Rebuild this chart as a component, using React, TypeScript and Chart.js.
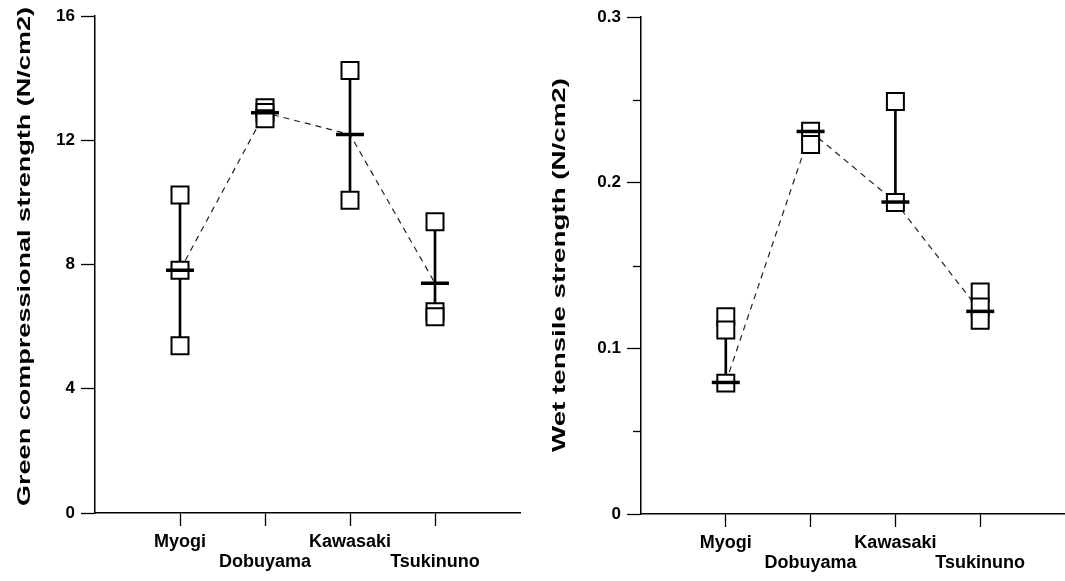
import React, { useEffect, useRef } from 'react';
import { Chart, registerables } from 'chart.js';

Chart.register(...registerables);

const FONT = '"Liberation Sans", Arial, Helvetica, sans-serif';
Chart.defaults.font.family = FONT;

// ---- data ----
const categories = ['Myogi', 'Dobuyama', 'Kawasaki', 'Tsukinuno'];
const categoryPositions = [1, 2, 3, 4];

const greenSamples = [
  [10.24, 7.82, 5.39],
  [13.05, 12.9, 12.7],
  [14.25, 10.07],
  [9.38, 6.48, 6.32],
];
const greenMeans = [7.82, 12.89, 12.19, 7.4];
const greenTicks = [0, 4, 8, 12, 16];
const greenMinorTicks: number[] = [];
const greenTitle = 'Green compressional strength (N/cm2)';

const wetSamples = [
  [0.119, 0.111, 0.079],
  [0.231, 0.223],
  [0.249, 0.188],
  [0.134, 0.125, 0.117],
];
const wetMeans = [0.0794, 0.2309, 0.1883, 0.1223];
const wetTicks = [0, 0.1, 0.2, 0.3];
const wetMinorTicks = [0.05, 0.15, 0.25];
const wetTitle = 'Wet tensile strength (N/cm2)';

type PanelProps = {
  samples: number[][];
  means: number[];
  ticks: number[];
  minorTicks: number[];
  title: string;
  fmt: (v: number) => string;
  left: number;
  width: number;
  yWidth: number;
  padTop: number;
  padRight: number;
  xHeight: number;
  titlePad: number;
  titleTop: number;
  titleBottom: number;
};

function Panel(p: PanelProps) {
  const ref = useRef<HTMLCanvasElement | null>(null);

  useEffect(() => {
    if (!ref.current) return;
    const sampleData = p.samples.flatMap((vals, i) =>
      vals.map((v) => ({ x: categoryPositions[i], y: v }))
    );
    const rangeData = p.samples.map((vals, i) => ({
      x: categoryPositions[i],
      y: [Math.min(...vals), Math.max(...vals)],
    }));
    const meanData = p.means.map((v, i) => ({ x: categoryPositions[i], y: v }));

    const titleFontSize = 17.5;

    const stretchPlugin = {
      id: 'stretchTitle',
      beforeDraw(chart: any) {
        const s = chart.scales.y;
        if (!s || s.__patched) return;
        const orig = s.drawTitle.bind(s);
        s.drawTitle = function () {
          const ctx = this.ctx;
          ctx.save();
          ctx.font = `bold ${titleFontSize}px ${FONT}`;
          const w = ctx.measureText(p.title).width;
          ctx.restore();
          const stretch = (p.titleBottom - p.titleTop) / w;
          const targetCy = (p.titleTop + p.titleBottom) / 2;
          const cy = (this.top + this.bottom) / 2;
          ctx.save();
          ctx.translate(0, targetCy);
          ctx.scale(1, stretch);
          ctx.translate(0, -cy);
          orig();
          ctx.restore();
        };
        s.__patched = true;
      },
    };

    const minorTickPlugin = {
      id: 'minorTicks',
      afterDraw(chart: any) {
        const s = chart.scales.y;
        const ctx = chart.ctx;
        ctx.save();
        ctx.strokeStyle = '#000';
        ctx.lineWidth = 1.3;
        p.minorTicks.forEach((v) => {
          const y = Math.round(s.getPixelForValue(v)) + 0.5;
          ctx.beginPath();
          ctx.moveTo(s.right - 8, y);
          ctx.lineTo(s.right, y);
          ctx.stroke();
        });
        ctx.restore();
      },
    };

    const chart = new Chart(ref.current, {
      type: 'scatter',
      data: {
        datasets: [
          {
            type: 'scatter',
            label: 'Mean',
            data: meanData,
            pointStyle: 'line',
            pointRadius: 14,
            pointBorderWidth: 3.5,
            pointBorderColor: '#000',
            pointBackgroundColor: '#000',
            showLine: false,
          },
          {
            type: 'scatter',
            label: 'Samples',
            data: sampleData,
            pointStyle: 'rect',
            pointRadius: 12,
            pointBorderWidth: 2,
            pointBorderColor: '#000',
            pointBackgroundColor: '#fff',
            showLine: false,
          },
          {
            type: 'line',
            label: 'Trend',
            data: meanData,
            borderColor: '#222',
            borderWidth: 1.2,
            borderDash: [6, 5],
            pointRadius: 0,
            fill: false,
            tension: 0,
          },
          {
            type: 'bar',
            label: 'Range',
            data: rangeData as any,
            backgroundColor: '#000',
            barThickness: 2,
            borderWidth: 0,
          },
        ] as any,
      },
      options: {
        responsive: false,
        animation: false,
        devicePixelRatio: 1,
        layout: {
          autoPadding: false,
          padding: { top: p.padTop, right: p.padRight, left: 0, bottom: 0 },
        },
        plugins: { legend: { display: false }, tooltip: { enabled: false } },
        scales: {
          x: {
            type: 'linear',
            min: 0,
            max: 5,
            offset: false,
            afterBuildTicks: (s: any) => {
              s.ticks = categoryPositions.map((v) => ({ value: v }));
            },
            afterFit: (s: any) => {
              s.height = p.xHeight;
              s.paddingLeft = 0;
              s.paddingRight = 0;
            },
            grid: {
              offset: false,
              drawOnChartArea: false,
              drawTicks: true,
              tickLength: 13,
              tickColor: '#000',
              tickWidth: 1.3,
            },
            border: { display: true, color: '#000', width: 1.5 },
            ticks: {
              color: '#000',
              font: { family: FONT, size: 18, weight: 'bold', lineHeight: 1.1 },
              padding: 6,
              maxRotation: 0,
              autoSkip: false,
              callback: (_v: any, i: number) =>
                i % 2 === 0 ? [categories[i]] : ['', categories[i]],
            },
          },
          y: {
            type: 'linear',
            min: p.ticks[0],
            max: p.ticks[p.ticks.length - 1],
            offset: false,
            afterBuildTicks: (s: any) => {
              s.ticks = p.ticks.map((v) => ({ value: v }));
            },
            afterFit: (s: any) => {
              s.width = p.yWidth;
            },
            grid: {
              offset: false,
              drawOnChartArea: false,
              drawTicks: true,
              tickLength: 14,
              tickColor: '#000',
              tickWidth: 1.3,
            },
            border: { display: true, color: '#000', width: 1.5 },
            ticks: {
              color: '#000',
              font: { family: FONT, size: 17, weight: 'bold' },
              padding: 6,
              callback: (v: any) => p.fmt(Number(v)),
            },
            title: {
              display: true,
              text: p.title,
              color: '#000',
              font: { family: FONT, size: titleFontSize, weight: 'bold' },
              padding: { top: p.titlePad, bottom: 0 },
            },
          },
        },
      } as any,
      plugins: [stretchPlugin, minorTickPlugin],
    });

    return () => chart.destroy();
  }, []);

  return (
    <canvas
      ref={ref}
      width={p.width}
      height={581}
      style={{ position: 'absolute', left: p.left, top: 0, width: p.width, height: 581 }}
    />
  );
}

export default function App() {
  return (
    <div
      style={{
        position: 'absolute',
        left: 0,
        top: 0,
        width: 1065,
        height: 581,
        background: '#fff',
        overflow: 'hidden',
      }}
    >
      <Panel
        samples={greenSamples}
        means={greenMeans}
        ticks={greenTicks}
        minorTicks={greenMinorTicks}
        title={greenTitle}
        fmt={(v) => String(v)}
        left={0}
        width={530}
        yWidth={95}
        padTop={16}
        padRight={10}
        xHeight={68}
        titlePad={15}
        titleTop={7}
        titleBottom={506}
      />
      <Panel
        samples={wetSamples}
        means={wetMeans}
        ticks={wetTicks}
        minorTicks={wetMinorTicks}
        title={wetTitle}
        fmt={(v) => (v === 0 ? '0' : v.toFixed(1))}
        left={540}
        width={525}
        yWidth={101}
        padTop={17}
        padRight={0}
        xHeight={67}
        titlePad={10}
        titleTop={78}
        titleBottom={452}
      />
    </div>
  );
}
